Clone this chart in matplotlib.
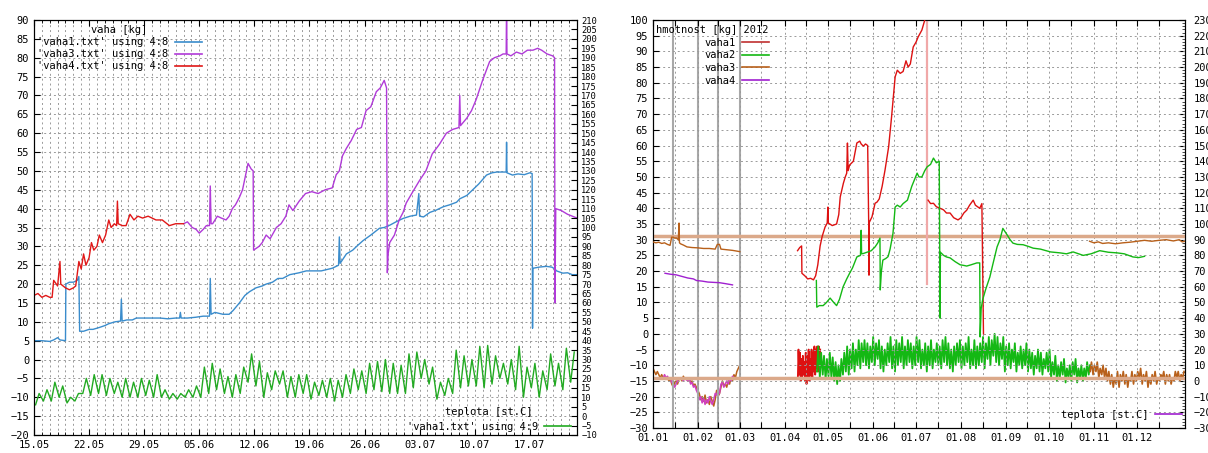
import matplotlib
matplotlib.use('Agg')
import matplotlib.pyplot as plt
from matplotlib.lines import Line2D

plt.rcParams['font.family'] = ['DejaVu Sans Mono']
plt.rcParams['font.size'] = 7

# ================= LEFT PANEL (days since 15.05) =================
L_xticks = [0, 7, 14, 21, 28, 35, 42, 49, 56, 63]
L_xlabels = ['15.05', '22.05', '29.05', '05.06', '12.06', '19.06', '26.06', '03.07', '10.07', '17.07']

L_vaha4 = [(0, 17), (0.5, 17.5), (1, 16.5), (1.5, 17), (2, 16.5), (2.3, 16.5), (2.5, 21), (3.0, 19.5),
           (3.3, 26), (3.4, 20), (4, 19), (4.5, 18.5), (5, 19), (5.3, 19.5), (5.7, 26), (6.0, 24),
           (6.3, 28), (6.6, 25), (7.0, 27), (7.3, 31), (7.6, 29), (8.0, 30), (8.3, 33), (8.7, 31),
           (9.1, 33), (9.5, 37), (9.8, 35), (10.2, 36), (10.5, 35.5), (10.6, 42), (10.7, 36), (11.2, 35.5),
           (11.7, 35.5), (12.2, 38.5), (12.7, 37), (13.2, 38), (13.8, 37.5), (14.5, 38), (15.5, 37),
           (16.3, 37), (17.2, 35.5), (18.0, 36), (19.0, 36)]

L_vaha3 = [(19.0, 36), (19.5, 36.5), (20.1, 35), (20.6, 34.5), (21.0, 33.5), (21.5, 34.5), (21.9, 35.5),
           (22.3, 35.5), (22.4, 46), (22.5, 36), (22.7, 36), (23.3, 38), (23.8, 37.5), (24.4, 37),
           (24.8, 38), (25.2, 40), (25.6, 41), (26.1, 43), (26.5, 45), (26.9, 49), (27.2, 52), (27.6, 50.5),
           (27.85, 50), (27.9, 29), (28.6, 30), (29.0, 31), (29.5, 33), (30.0, 32), (30.8, 35), (31.4, 36),
           (32.0, 38), (32.4, 41), (32.9, 39.5), (33.7, 42), (34.5, 44), (35.3, 44.5), (36.1, 44),
           (37.0, 45), (37.9, 45.5), (38.4, 49), (38.8, 50), (39.2, 54), (39.7, 56), (40.3, 58), (41.0, 61),
           (41.6, 61.5), (42.2, 66), (42.8, 67), (43.5, 71), (44.0, 72), (44.5, 74), (44.8, 72), (44.9, 23),
           (45.0, 28), (45.2, 31), (45.8, 33), (46.4, 37), (46.9, 39), (47.3, 41.5), (48.0, 44), (49.0, 47.5),
           (49.8, 50), (50.6, 54.5), (51.5, 57), (52.4, 60), (53.2, 61), (54.0, 61.5), (54.1, 70), (54.2, 62),
           (55.0, 64), (55.6, 66), (56.2, 69), (57.0, 74), (57.9, 79), (58.5, 80), (59.2, 80.5), (59.6, 81),
           (60.0, 81), (60.05, 95), (60.1, 81), (60.6, 80.5), (61.3, 81.5), (62.0, 81), (62.7, 82), (63.4, 82),
           (64.0, 82.5), (64.5, 82), (65.2, 81), (65.9, 80.5), (66.15, 80), (66.2, 15), (66.3, 40),
           (67.0, 39.5), (67.8, 38.5), (68.4, 38), (69.0, 37.5)]

L_vaha1 = [(0, 5), (1, 5), (2, 4.8), (2.5, 5.2), (3.0, 5.8), (3.3, 5.2), (4.0, 5), (4.05, 20), (4.5, 20.5),
           (5.0, 20.5), (5.5, 21), (5.7, 22), (5.8, 7.5), (6.3, 7.5), (7.0, 8), (7.5, 8), (8.3, 8.5),
           (9.0, 9), (9.5, 9.5), (10.3, 10), (11.0, 10.2), (11.1, 16), (11.2, 10.2), (11.8, 10.5),
           (12.5, 10.5), (13.0, 11), (14.0, 11), (15.0, 11), (16.0, 11), (17.0, 10.8), (18.0, 11),
           (18.5, 11), (18.6, 12.5), (18.7, 11), (19.5, 11), (20.5, 11.2), (21.5, 11.5), (22.3, 11.5),
           (22.4, 21.5), (22.5, 12), (23.0, 12.5), (24.0, 12), (24.8, 12), (25.3, 13), (26.1, 15),
           (26.8, 17), (27.4, 18), (28.2, 19), (29.0, 19.5), (29.5, 20), (30.3, 20.5), (31.0, 21.5),
           (31.6, 21.5), (32.5, 22.5), (33.7, 23), (34.6, 23.5), (35.5, 23.5), (36.5, 23.5), (37.9, 24.2),
           (38.7, 25), (38.8, 32.5), (38.9, 25.5), (39.7, 28), (40.5, 29), (41.0, 30), (41.8, 31.5),
           (42.8, 33), (43.9, 34.8), (44.5, 35), (45.2, 35.6), (46.0, 36.5), (46.9, 37.4), (47.8, 38),
           (48.6, 38.3), (48.9, 44), (49.0, 38), (49.5, 37.8), (50.3, 39), (51.1, 39.6), (52.0, 40.5),
           (52.8, 41), (53.7, 41.7), (54.1, 42.6), (55.0, 43.5), (55.7, 44.9), (56.5, 46.5), (57.5, 48.9),
           (58.2, 49.5), (58.8, 49.7), (59.5, 49.7), (60.0, 49.7), (60.05, 57.6), (60.1, 49.5),
           (60.8, 48.9), (61.5, 49.2), (62.3, 49), (63.0, 49.5), (63.3, 49.3), (63.35, 8.3), (63.4, 24.2),
           (64.2, 24.5), (65.1, 24.7), (65.8, 24.5), (66.2, 24), (66.4, 23.5), (67.2, 22.9), (67.8, 23),
           (68.4, 22.5), (69.0, 22.5)]

# daily min / max temperature [st.C], vaha1, from 15.05
L_temp_min = [6, 8, 8, 10, 7, 8, 12, 11, 12, 11,
              12, 10, 10, 10, 11, 10, 10, 9, 9, 10,
              10, 10, 12, 14, 12, 10, 12, 18, 16, 10,
              14, 17, 10, 10, 12, 9, 11, 10, 8, 10,
              12, 14, 12, 14, 13, 12, 12, 12, 15, 20,
              17, 9, 11, 12, 15, 16, 16, 15, 17, 20,
              17, 14, 10, 15, 10, 14, 16, 14, 18]
L_temp_max = [12, 14, 18, 16, 10, 12, 20, 22, 22, 20,
              18, 20, 18, 20, 19, 22, 14, 12, 12, 14,
              16, 26, 28, 25, 21, 22, 26, 33, 29, 23,
              24, 24, 21, 22, 22, 18, 19, 20, 19, 22,
              25, 24, 28, 29, 30, 28, 27, 33, 34, 30,
              26, 18, 20, 35, 32, 30, 37, 37.5, 32, 28,
              30, 37, 26, 28, 24, 33, 28, 36, 34]

# ================= RIGHT PANEL (day of year 2012) =================
R_month_days = [0, 31, 60, 91, 121, 152, 182, 213, 244, 274, 305, 335]
R_mid_days = [15, 45, 75, 106, 136, 167, 197, 228, 259, 289, 320, 350]
R_xlabels = ['01.01', '01.02', '01.03', '01.04', '01.05', '01.06',
             '01.07', '01.08', '01.09', '01.10', '01.11', '01.12']
R_gray_days = [14, 31, 45, 60]
R_ref_kg = [31.2, -14.1]

R_vaha3_a = [(0, 29.3), (2, 29), (4, 29.2), (6, 28.8), (8, 29), (10, 28.5), (11.8, 28.2), (12.9, 30.8),
             (14, 30.8), (15, 30.5), (16, 30.6), (17.5, 30), (18, 35.3), (18.3, 29), (19, 28.7),
             (21, 28.3), (23.5, 27.7), (27, 27.5), (31, 27.4), (35, 27.2), (39, 27.2), (43, 27),
             (44.5, 28.5), (46, 28.5), (47, 27), (51, 26.8), (55, 26.6), (60, 26.2)]
R_vaha4_a = [(8.3, 19.3), (12, 19), (16, 18.8), (20, 18.3), (24, 17.8), (28, 17.5), (30, 17),
             (34, 16.8), (38, 16.5), (42, 16.4), (46, 16.3), (50, 16), (55, 15.6)]
R_vaha1_a = [(100, 26.5), (101.5, 27.5), (102.8, 28), (103, 19.3), (105, 18.5), (107, 17.5),
             (109, 17.7), (111, 17.2), (112.5, 18.5), (114, 22), (115.6, 28), (117, 31), (119, 34),
             (120.5, 35.3), (121, 40.4), (121.3, 35.3), (124, 34.5), (127, 35), (128.5, 38), (129.5, 43.6),
             (131.7, 48), (133, 50), (134, 51.2), (134.5, 60.8), (135, 52), (136, 53.8), (138.6, 55),
             (141, 60.8), (143, 61.4), (144, 60.5), (145.5, 59.8), (147, 60.5), (148.5, 60), (149.2, 35.3),
             (149.4, 18.7), (149.6, 35.5), (151.5, 37.3), (153.6, 41.6), (155, 42), (156.5, 43),
             (158.5, 47), (160.5, 52.2), (163, 59.6), (165, 69), (167.5, 81.9), (169, 84), (171, 83),
             (173, 83.6), (175, 87), (176.5, 85), (178, 86), (180, 91.4), (182, 93), (183.4, 94.6),
             (186, 96.8), (188, 100), (189.5, 110)]
R_vaha1_drop = [(189.6, 110), (189.6, 16)]
R_vaha1_b = [(190.3, 42.6), (192, 41.5), (194, 41.6), (196, 40.5), (198.6, 40), (201, 39.5),
             (203, 38.5), (205.5, 38.5), (208, 37), (211, 36.3), (213, 37), (215, 38.5), (217, 39.4),
             (219, 41), (221.5, 42.6), (223, 41), (226, 40), (227.5, 41.5), (228.6, 0)]
R_vaha2 = [(113, 17), (113.3, 8.5), (115, 9), (117.7, 9), (120, 10), (122.5, 11.4), (125, 10), (127, 9),
           (129, 11), (131.5, 15), (134, 17.5), (136, 19.3), (138, 21), (141, 24.5), (143.5, 25),
           (144, 33), (144.3, 25.5), (145.5, 25.6), (148, 26), (151, 26.5), (153.6, 27.7), (155.5, 29),
           (157, 30.5), (157.2, 14), (158, 20), (159, 23.5), (161, 24), (162.6, 24.6), (164, 27),
           (166, 32), (167.5, 40.4), (169, 41), (171, 40.4), (173, 41.5), (176, 42.6), (179, 47),
           (182.7, 51.2), (184, 50), (186, 50), (188, 52), (189.6, 53.2), (192, 54), (194, 56),
           (196, 54.5), (198, 55), (198.6, 5), (198.8, 26), (201, 25), (203, 24.5), (205.5, 24.2),
           (209, 23), (212.5, 22), (215, 21.8), (217, 21.6), (220, 22), (224, 22.6), (226, 22.6),
           (226.3, -1), (227, 8), (228, 10.8), (230, 14), (233, 18.1), (235, 22), (238, 27.7), (240, 30),
           (242, 33.6), (245, 31.5), (247, 30), (249, 28.9), (252, 28.5), (256, 28.4), (260, 27.8),
           (263, 27.3), (268, 27), (275, 26.1), (281.6, 25.8), (286, 25.5), (290.6, 26.1), (297.6, 25),
           (303, 25.5), (309, 26.5), (315, 26), (321, 25.8), (326, 25.5), (332, 24.5), (336, 24.3),
           (340, 24.7)]
R_vaha3_b = [(302, 29.5), (305, 29), (308, 29.3), (311, 28.8), (315, 29), (320, 28.7), (325, 29),
             (330, 29.2), (335, 29.5), (340, 29.8), (345, 29.5), (350, 29.8), (355, 30), (360, 29.6),
             (364, 30), (366, 29.3), (368, 29.5)]

# temperatures [st.C]
R_t_vaha3_a = [(0, 8), (1, 6), (2, 4), (3, 6), (4, 4), (5, 2), (6, 4), (7, 2), (8, 3), (9, 1), (10, 2),
               (11, 0), (12, 1), (13, -2), (14, -4), (15, -1), (16, 0), (17, -2), (18, 1), (19, 2),
               (20, 0), (21, 3), (22, 1), (23, 2), (24, 0), (25, 2), (26, -1), (27, 0), (28, -3),
               (29, -2), (30, -4), (31, -6), (32, -8), (33, -12), (34, -10), (35, -13), (36, -9),
               (37, -14), (38, -12), (39, -15), (40, -10), (41, -13), (42, -16), (43, -12), (44, -6),
               (45, -10), (46, -8), (47, -4), (48, 0), (49, -3), (50, -2), (51, -4), (52, 0), (53, -2),
               (54, 2), (55, 0), (56, 4), (57, 2), (58, 6), (59, 8), (60, 10)]
R_t_vaha4_a = [(7, 2), (8, 4), (9, 2), (10, 3), (11, 1), (12, 2), (13, -1), (14, -2), (15, -4),
               (16, -2), (17, 0), (18, 2), (19, 1), (20, 2), (21, 0), (22, 2), (23, 1), (24, 0), (25, 2),
               (26, -2), (27, -1), (28, -4), (29, -3), (30, -6), (31, -8), (32, -12), (33, -10),
               (34, -14), (35, -11), (36, -15), (37, -12), (38, -14), (39, -10), (40, -13), (41, -15),
               (42, -12), (43, -8), (44, -9), (45, -6), (46, -8), (47, -2), (48, -1), (49, -4), (50, -2),
               (51, 0), (52, -2), (53, 2), (54, 0), (55, 3), (56, 2)]
R_t_vaha1_start = 100
R_t_vaha1 = [(2, 20), (4, 18), (0, 14), (2, 16), (4, 12), (0, 18), (-2, 16), (2, 20), (0, 14), (4, 20),
             (2, 18), (6, 22), (4, 20), (8, 22), (6, 22), (10, 20)]
R_t_vaha2_start = 113
R_t_vaha2 = [(6, 22), (2, 18), (4, 16), (1, 14), (3, 18), (2, 15), (0, 12), (-2, 10), (0, 14), (4, 18),
             (6, 22), (4, 20), (8, 24), (6, 20), (10, 26), (8, 24), (12, 26), (10, 24), (8, 22), (12, 28),
             (10, 24), (14, 26), (8, 22), (6, 20), (10, 24), (12, 28), (8, 22), (6, 26), (10, 24), (12, 28),
             (8, 22), (10, 26), (12, 24), (8, 22), (10, 28), (12, 26), (8, 20), (10, 24), (6, 22), (10, 26),
             (8, 20), (12, 24), (10, 22), (8, 26), (12, 28), (10, 24), (8, 20), (6, 22), (10, 24), (12, 26),
             (8, 22), (10, 24), (12, 28), (8, 20), (10, 26), (8, 22), (10, 24), (12, 28), (8, 24), (14, 28),
             (10, 26), (16, 30), (12, 28), (10, 24), (14, 28), (6, 22), (10, 24), (8, 20), (12, 24), (6, 18),
             (10, 22), (8, 20), (10, 24), (6, 20), (8, 18), (4, 16), (8, 20), (6, 18), (4, 14), (8, 18),
             (6, 20), (2, 12), (4, 16), (0, 10), (2, 12), (4, 14), (-1, 8), (2, 10), (0, 12), (4, 14),
             (-1, 8), (2, 10), (0, 8), (2, 12), (4, 10)]
R_t_vaha3_start = 302
R_t_vaha3_b = [(6, 12), (4, 10), (6, 12), (2, 8), (4, 10), (2, 8), (0, 6), (-2, 4), (-4, 2), (-2, 6),
               (-4, 4), (0, 6), (-2, 4), (-4, 2), (0, 6), (-2, 4), (0, 6), (2, 8), (-2, 4), (0, 6),
               (-4, 2), (-2, 4), (0, 6), (-2, 2), (0, 4), (2, 6), (-2, 4), (0, 4), (-2, 2), (0, 6),
               (2, 6), (0, 4), (2, 6)]

# colours
C_BLUE = '#3a8ccc'
C_PURPLE = '#b03ad8'
C_RED = '#e01818'
C_GREEN = '#22aa22'
R_RED = '#dd1111'
R_GREEN = '#14b814'
R_BROWN = '#b8601a'
R_PURPLE = '#a020d0'
R_MAGENTA = '#d040c0'
R_TAN = '#dba98a'
GRID_KW = dict(color='#9a9a9a', linestyle=(0, (2, 3)), linewidth=0.7)


def xy(pts):
    return [p[0] for p in pts], [p[1] for p in pts]


def diurnal(start, step, pairs):
    xs, ys = [], []
    for i, (lo, hi) in enumerate(pairs):
        d = start + i * step
        xs += [d + 0.2 * step, d + 0.65 * step]
        ys += [lo, hi]
    return xs, ys


fig = plt.figure(figsize=(12.08, 4.53), dpi=100)
W, H = 1208.0, 453.0

# ---------------- left panel ----------------
ax1 = fig.add_axes([34 / W, 18 / H, 543 / W, 415 / H])
ax2 = ax1.twinx()
ax1.set_xlim(0, 69)
ax1.set_ylim(-20, 90)
ax2.set_ylim(-10, 210)
ax1.set_xticks(L_xticks)
ax1.set_xticklabels(L_xlabels)
ax1.set_xticks(range(0, 70), minor=True)
ax1.set_yticks(range(-20, 91, 5))
ax2.set_yticks(range(-10, 211, 5))
ax1.grid(True, which='both', axis='x', **GRID_KW)
ax1.grid(True, which='major', axis='y', **GRID_KW)
ax1.set_axisbelow(True)
ax1.tick_params(direction='in', top=True, length=4, width=0.8, labelsize=7.5)
ax1.tick_params(which='minor', direction='in', top=True, length=2, width=0.6)
ax2.tick_params(direction='in', length=4, width=0.8, labelsize=6.3, pad=3)

ax1.plot(*xy(L_vaha1), color=C_BLUE, lw=1.0)
ax1.plot(*xy(L_vaha3), color=C_PURPLE, lw=1.0)
ax1.plot(*xy(L_vaha4), color=C_RED, lw=1.0)
ax2.plot(*diurnal(0, 1, list(zip(L_temp_min, L_temp_max))), color=C_GREEN, lw=1.0)

ax1.legend([Line2D([], [], color=C_BLUE, lw=1.2), Line2D([], [], color=C_PURPLE, lw=1.2),
            Line2D([], [], color=C_RED, lw=1.2)],
           ["'vaha1.txt' using 4:8", "'vaha3.txt' using 4:8", "'vaha4.txt' using 4:8"],
           title='vaha [kg]', loc='upper left', bbox_to_anchor=(0.0, 0.995), frameon=False,
           markerfirst=False, handlelength=2.6, handletextpad=0.6, labelspacing=0.2,
           borderaxespad=0.1, borderpad=0.2, fontsize=7.5, title_fontsize=7.5)
ax2.legend([Line2D([], [], color=C_GREEN, lw=1.2)], ["'vaha1.txt' using 4:9"],
           title='teplota [st.C]', loc='lower right', bbox_to_anchor=(0.995, 0.0), frameon=False,
           markerfirst=False, handlelength=2.6, handletextpad=0.6, borderaxespad=0.1, borderpad=0.2,
           fontsize=7.5, title_fontsize=7.5)

# ---------------- right panel ----------------
ax3 = fig.add_axes([653 / W, 25 / H, 532 / W, 408 / H])
ax4 = ax3.twinx()
ax3.set_zorder(ax4.get_zorder() + 1)
ax3.patch.set_visible(False)
ax4.patch.set_visible(True)
ax4.patch.set_facecolor('white')
ax3.set_xlim(0, 368)
ax3.set_ylim(-30, 100)
ax4.set_ylim(-30, 230)
ax3.set_xticks(R_month_days)
ax3.set_xticklabels(R_xlabels)
ax3.set_xticks(R_mid_days, minor=True)
ax3.set_yticks(range(-30, 101, 5))
ax4.set_yticks(range(-30, 231, 10))
ax4.set_yticks(range(-30, 231, 2), minor=True)
ax3.grid(True, which='both', axis='x', **GRID_KW)
ax3.grid(True, which='major', axis='y', **GRID_KW)
ax3.tick_params(direction='in', top=True, length=4, width=0.8, labelsize=7.5)
ax3.tick_params(which='minor', direction='in', top=True, length=4, width=0.8)
ax4.tick_params(direction='in', length=4, width=0.8, labelsize=7.5, pad=6)
ax4.tick_params(which='minor', direction='in', length=2, width=0.5)

for d in R_gray_days:
    ax3.axvline(d, color='#a8a8a8', lw=1.5, zorder=1.5)
for v in R_ref_kg:
    ax3.axhline(v, color=R_TAN, lw=2.5, zorder=1.6)

# temperatures (right axis)
ax4.plot(*xy(R_t_vaha3_a), color=R_BROWN, lw=1.1)
ax4.plot(*xy(R_t_vaha4_a), color=R_MAGENTA, lw=1.1)
ax4.plot(*diurnal(R_t_vaha1_start, 1, R_t_vaha1), color=R_RED, lw=1.3)
ax4.plot(*diurnal(R_t_vaha2_start, 2, R_t_vaha2), color=R_GREEN, lw=1.3)
ax4.plot(*diurnal(R_t_vaha3_start, 2, R_t_vaha3_b), color=R_BROWN, lw=1.2)

# weights (left axis)
ax3.plot(*xy(R_vaha3_a), color=R_BROWN, lw=1.0, zorder=3)
ax3.plot(*xy(R_vaha4_a), color=R_PURPLE, lw=1.0, zorder=3)
ax3.plot(*xy(R_vaha1_drop), color='#f0a8a8', lw=1.6, zorder=2.5)
ax3.plot(*xy(R_vaha1_a), color=R_RED, lw=1.0, zorder=3)
ax3.plot(*xy(R_vaha1_b), color=R_RED, lw=1.0, zorder=3)
ax3.plot(*xy(R_vaha2), color=R_GREEN, lw=1.0, zorder=3)
ax3.plot(*xy(R_vaha3_b), color=R_BROWN, lw=1.0, zorder=3)

leg3 = ax3.legend([Line2D([], [], color='#c03030', lw=1.2), Line2D([], [], color=R_GREEN, lw=1.2),
                   Line2D([], [], color=R_BROWN, lw=1.2), Line2D([], [], color=R_PURPLE, lw=1.2)],
                  ['vaha1', 'vaha2', 'vaha3', 'vaha4'], title='hmotnost [kg] 2012', loc='upper left',
                  bbox_to_anchor=(0.0, 0.995), frameon=False, markerfirst=False, handlelength=2.6,
                  handletextpad=0.6, labelspacing=0.25, borderaxespad=0.1, borderpad=0.2,
                  fontsize=7.5, title_fontsize=7.5, alignment='right')
leg3.set_zorder(10)
fig.legend([Line2D([], [], color=R_PURPLE, lw=1.2)], ['teplota [st.C]'],
           loc='lower right', bbox_to_anchor=(1185 / W, 30 / H), frameon=False,
           markerfirst=False, handlelength=2.6, handletextpad=0.6, borderaxespad=0.1,
           borderpad=0.2, fontsize=7.5)

fig.savefig('out.png', dpi=100)
